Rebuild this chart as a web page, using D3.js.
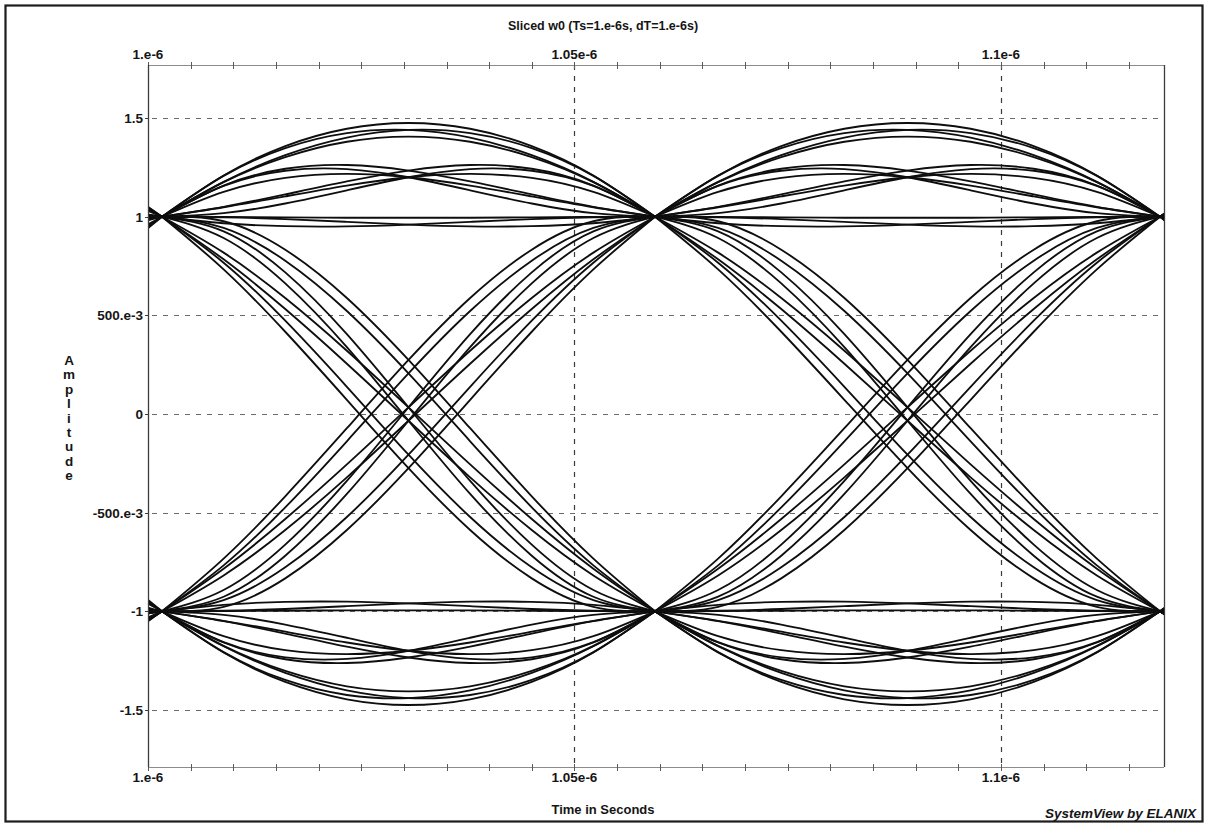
<!DOCTYPE html>
<html>
<head>
<meta charset="utf-8">
<script src="https://cdn.jsdelivr.net/npm/d3@7"></script>
<style>
  html, body { margin: 0; padding: 0; background: #ffffff; }
  svg { display: block; }
  text { font-family: "Liberation Sans", Arial, sans-serif; fill: #151515; }
</style>
</head>
<body>
<svg id="chart" width="1207" height="827"></svg>
<script>
// ---- axis ticks ----
const xTickValues = [1.0e-6, 1.05e-6, 1.1e-6];
const xTickLabels = ["1.e-6", "1.05e-6", "1.1e-6"];
const yTickValues = [1.5, 1, 0.5, 0, -0.5, -1, -1.5];
const yTickLabels = ["1.5", "1", "500.e-3", "0", "-500.e-3", "-1", "-1.5"];

// ---- symbol slot boundaries (seconds) where the traces converge ----
const slotEdges = [0.94294e-6, 1.00164e-6, 1.05944e-6, 1.11864e-6, 1.17734e-6];
// position of each sample inside a slot (0 = slot start, 1 = slot end)
const slotPhase = [0, 0.125, 0.25, 0.375, 0.5, 0.625, 0.75, 0.875, 1];

// ---- traces staying high (+1 -> +1) ----
const highToHigh = [
  [1, 1.209, 1.358, 1.446, 1.475, 1.446, 1.358, 1.209, 1],
  [1, 1.207, 1.348, 1.424, 1.440, 1.401, 1.312, 1.177, 1],
  [1, 1.177, 1.312, 1.401, 1.440, 1.424, 1.348, 1.207, 1],
  [1, 1.175, 1.302, 1.380, 1.406, 1.380, 1.302, 1.175, 1],
  [1, 1.158, 1.243, 1.262, 1.234, 1.179, 1.113, 1.050, 1],
  [1, 1.156, 1.233, 1.241, 1.200, 1.134, 1.067, 1.018, 1],
  [1, 1.126, 1.197, 1.217, 1.200, 1.158, 1.103, 1.048, 1],
  [1, 1.050, 1.113, 1.179, 1.234, 1.262, 1.243, 1.158, 1],
  [1, 1.018, 1.067, 1.134, 1.200, 1.241, 1.233, 1.156, 1],
  [1, 1.048, 1.103, 1.158, 1.200, 1.217, 1.197, 1.126, 1],
  [1, 0.999, 0.997, 0.995, 0.995, 0.995, 0.997, 0.999, 1],
  [1, 0.997, 0.988, 0.974, 0.960, 0.951, 0.952, 0.967, 1],
  [1, 0.967, 0.952, 0.951, 0.960, 0.974, 0.988, 0.997, 1]
];

// ---- falling traces (+1 -> -1) ----
const highToLow = [
  [1, 0.767, 0.473, 0.138, -0.206, -0.522, -0.777, -0.943, -1],
  [1, 0.733, 0.417, 0.072, -0.274, -0.588, -0.833, -0.977, -1],
  [1, 0.977, 0.833, 0.588, 0.274, -0.072, -0.417, -0.733, -1],
  [1, 0.943, 0.777, 0.522, 0.206, -0.138, -0.473, -0.767, -1],
  [1, 0.818, 0.588, 0.321, 0.034, -0.255, -0.532, -0.784, -1],
  [1, 0.784, 0.532, 0.255, -0.034, -0.321, -0.588, -0.818, -1],
  [1, 0.926, 0.718, 0.405, 0.034, -0.339, -0.662, -0.892, -1],
  [1, 0.892, 0.662, 0.339, -0.034, -0.405, -0.718, -0.926, -1]
];

// ---- rising traces (-1 -> +1) ----
const lowToHigh = [
  [-1, -0.767, -0.473, -0.138, 0.206, 0.522, 0.777, 0.943, 1],
  [-1, -0.733, -0.417, -0.072, 0.274, 0.588, 0.833, 0.977, 1],
  [-1, -0.977, -0.833, -0.588, -0.274, 0.072, 0.417, 0.733, 1],
  [-1, -0.943, -0.777, -0.522, -0.206, 0.138, 0.473, 0.767, 1],
  [-1, -0.818, -0.588, -0.321, -0.034, 0.255, 0.532, 0.784, 1],
  [-1, -0.784, -0.532, -0.255, 0.034, 0.321, 0.588, 0.818, 1],
  [-1, -0.926, -0.718, -0.405, -0.034, 0.339, 0.662, 0.892, 1],
  [-1, -0.892, -0.662, -0.339, 0.034, 0.405, 0.718, 0.926, 1]
];

// ---- traces staying low (-1 -> -1) ----
const lowToLow = [
  [-1, -1.209, -1.358, -1.446, -1.475, -1.446, -1.358, -1.209, -1],
  [-1, -1.207, -1.348, -1.424, -1.440, -1.401, -1.312, -1.177, -1],
  [-1, -1.177, -1.312, -1.401, -1.440, -1.424, -1.348, -1.207, -1],
  [-1, -1.175, -1.302, -1.380, -1.406, -1.380, -1.302, -1.175, -1],
  [-1, -1.158, -1.243, -1.262, -1.234, -1.179, -1.113, -1.050, -1],
  [-1, -1.156, -1.233, -1.241, -1.200, -1.134, -1.067, -1.018, -1],
  [-1, -1.126, -1.197, -1.217, -1.200, -1.158, -1.103, -1.048, -1],
  [-1, -1.050, -1.113, -1.179, -1.234, -1.262, -1.243, -1.158, -1],
  [-1, -1.018, -1.067, -1.134, -1.200, -1.241, -1.233, -1.156, -1],
  [-1, -1.048, -1.103, -1.158, -1.200, -1.217, -1.197, -1.126, -1],
  [-1, -0.999, -0.997, -0.995, -0.995, -0.995, -0.997, -0.999, -1],
  [-1, -0.997, -0.988, -0.974, -0.960, -0.951, -0.952, -0.967, -1],
  [-1, -0.967, -0.952, -0.951, -0.960, -0.974, -0.988, -0.997, -1]
];

const titleText = "Sliced w0 (Ts=1.e-6s, dT=1.e-6s)";
const xAxisTitle = "Time in Seconds";
const yAxisTitle = "Amplitude";
const creditText = "SystemView by ELANIX";

// ---- layout ----
const W = 1207, H = 827;
const plot = { left: 148, right: 1164, top: 65, bottom: 767 };

const svg = d3.select("#chart");
svg.append("rect").attr("width", W).attr("height", H).attr("fill", "#ffffff");

const x = d3.scaleLinear().domain([1.0e-6, 1.11911e-6]).range([plot.left, plot.right]);
const y = d3.scaleLinear().domain([-1.789, 1.769]).range([plot.bottom, plot.top]);

// outer frame
svg.append("rect")
  .attr("x", 5.5).attr("y", 5.5)
  .attr("width", 1197).attr("height", 816)
  .attr("fill", "none").attr("stroke", "#1c1c1c").attr("stroke-width", 2.2);

// title
svg.append("text")
  .attr("x", 603).attr("y", 30)
  .attr("text-anchor", "middle")
  .attr("font-size", 12.5).attr("font-weight", "bold")
  .attr("fill", "#1e1e1e")
  .text(titleText);

// horizontal dashed grid
const grid = svg.append("g");
grid.selectAll("line.hgrid")
  .data(yTickValues)
  .join("line")
  .attr("class", "hgrid")
  .attr("x1", plot.left + 4).attr("x2", plot.right - 2)
  .attr("y1", d => Math.round(y(d)) + 0.5).attr("y2", d => Math.round(y(d)) + 0.5)
  .attr("stroke", "#6a6a6a").attr("stroke-width", 1)
  .attr("stroke-dasharray", "5,6");

// vertical dashed grid
grid.selectAll("line.vgrid")
  .data(xTickValues.slice(1))
  .join("line")
  .attr("class", "vgrid")
  .attr("x1", d => Math.round(x(d)) + 0.5).attr("x2", d => Math.round(x(d)) + 0.5)
  .attr("y1", plot.top).attr("y2", plot.bottom)
  .attr("stroke", "#3a3a3a").attr("stroke-width", 1.2)
  .attr("stroke-dasharray", "5,6");

// top and bottom time axes (light ruled line with minor ticks)
const minorTicks = d3.range(0, 24).map(i => 1.0e-6 + i * 0.005e-6).filter(v => v <= 1.119e-6);
[plot.top, plot.bottom].forEach(yy => {
  const g = svg.append("g");
  g.append("line")
    .attr("x1", plot.left).attr("x2", plot.right)
    .attr("y1", yy + 0.5).attr("y2", yy + 0.5)
    .attr("stroke", "#8c8c8c").attr("stroke-width", 1);
  g.selectAll("line.tick")
    .data(minorTicks)
    .join("line")
    .attr("class", "tick")
    .attr("x1", d => Math.round(x(d)) + 0.5).attr("x2", d => Math.round(x(d)) + 0.5)
    .attr("y1", yy - 3).attr("y2", yy + 4)
    .attr("stroke", "#5a5a5a").attr("stroke-width", 1);
});

// left amplitude axis and right border
svg.append("line")
  .attr("x1", plot.left + 0.5).attr("x2", plot.left + 0.5)
  .attr("y1", plot.top).attr("y2", plot.bottom)
  .attr("stroke", "#3c3c3c").attr("stroke-width", 1.3);
svg.append("line")
  .attr("x1", plot.right + 0.5).attr("x2", plot.right + 0.5)
  .attr("y1", plot.top).attr("y2", plot.bottom)
  .attr("stroke", "#3c3c3c").attr("stroke-width", 1.3);

// y tick marks and labels
svg.selectAll("line.ytick")
  .data(yTickValues)
  .join("line")
  .attr("class", "ytick")
  .attr("x1", plot.left - 3).attr("x2", plot.left + 1)
  .attr("y1", d => Math.round(y(d)) + 0.5).attr("y2", d => Math.round(y(d)) + 0.5)
  .attr("stroke", "#3c3c3c");
svg.selectAll("text.ylab")
  .data(yTickValues)
  .join("text")
  .attr("class", "ylab")
  .attr("x", plot.left - 5)
  .attr("y", d => y(d) + 5)
  .attr("text-anchor", "end")
  .attr("font-size", 13.5).attr("font-weight", "bold")
  .text((d, i) => yTickLabels[i]);

// x tick labels, top and bottom
[{ yy: 59 }, { yy: 782 }].forEach(pos => {
  svg.selectAll(null)
    .data(xTickValues)
    .join("text")
    .attr("x", d => x(d))
    .attr("y", pos.yy)
    .attr("text-anchor", "middle")
    .attr("font-size", 13.5).attr("font-weight", "bold")
    .text((d, i) => xTickLabels[i]);
});

// y axis title, letters stacked vertically
svg.selectAll("text.ytitle")
  .data(yAxisTitle.split(""))
  .join("text")
  .attr("class", "ytitle")
  .attr("x", 69)
  .attr("y", (d, i) => 365 + i * 14.4)
  .attr("text-anchor", "middle")
  .attr("font-size", 13.5).attr("font-weight", "bold")
  .text(d => d);

// x axis title
svg.append("text")
  .attr("x", 603).attr("y", 814)
  .attr("text-anchor", "middle")
  .attr("font-size", 13).attr("font-weight", "bold")
  .text(xAxisTitle);

// credit
svg.append("text")
  .attr("x", 1196).attr("y", 818)
  .attr("text-anchor", "end")
  .attr("font-size", 13.5).attr("font-weight", "bold").attr("font-style", "italic")
  .text(creditText);

// ---- eye traces ----
svg.append("clipPath").attr("id", "plotClip")
  .append("rect")
  .attr("x", plot.left + 1).attr("y", plot.top)
  .attr("width", plot.right - plot.left - 1).attr("height", plot.bottom - plot.top);

const traceLine = d3.line()
  .x(d => x(d[0]))
  .y(d => y(d[1]))
  .curve(d3.curveNatural);

const allTraces = [].concat(highToHigh, highToLow, lowToHigh, lowToLow);
const segments = [];
for (let k = 0; k < slotEdges.length - 1; k++) {
  const t0 = slotEdges[k], t1 = slotEdges[k + 1];
  allTraces.forEach(tr => {
    segments.push(tr.map((v, i) => [t0 + slotPhase[i] * (t1 - t0), v]));
  });
}

svg.append("g")
  .attr("clip-path", "url(#plotClip)")
  .selectAll("path")
  .data(segments)
  .join("path")
  .attr("d", traceLine)
  .attr("fill", "none")
  .attr("stroke", "#0e0e0e")
  .attr("stroke-width", 1.85)
  .attr("stroke-linejoin", "round");
</script>
</body>
</html>
